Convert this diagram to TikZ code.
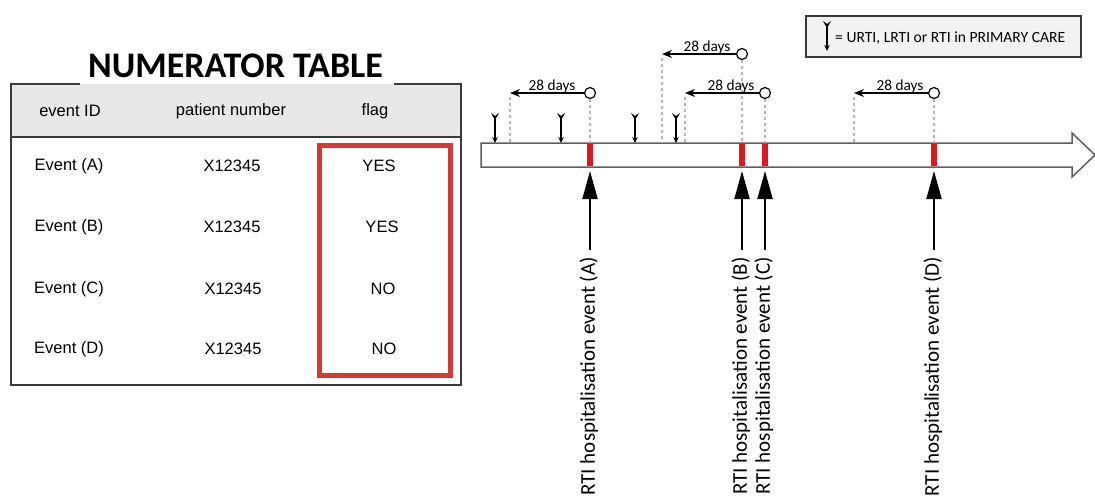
\documentclass[tikz,border=0pt]{standalone}
\usepackage{fontspec}
\setmainfont{Liberation Sans}
\newfontfamily\calfont{Carlito}
\usetikzlibrary{arrows.meta}
\definecolor{hdrgray}{HTML}{E8E8E8}
\definecolor{tblline}{HTML}{3A3A3A}
\definecolor{flagred}{HTML}{D23A33}
\definecolor{markred}{HTML}{E3141C}
\definecolor{barline}{HTML}{5E5E5E}
\definecolor{dashgray}{HTML}{B4B4B4}
\definecolor{legfill}{HTML}{F2F2F2}
\begin{document}
\begin{tikzpicture}[x=1pt,y=-1pt,
  tblborder/.style={draw=tblline,line width=1.5pt},
  celltext/.style={font=\fontsize{16.5}{19}\selectfont,inner sep=0pt},
  daylbl/.style={font=\calfont\fontsize{15.3}{17}\selectfont,inner sep=0pt,anchor=base},
  daycirc/.style={circle,draw=black,fill=white,line width=1.2pt,minimum size=11pt,inner sep=0pt},
  dayarrow/.style={draw=black,line width=1.4pt,-{Stealth[length=10pt,width=8pt]}},
  gdash/.style={draw=dashgray,line width=1.8pt,dash pattern=on 3pt off 3pt},
  pcarrow/.style={draw=black,line width=1.4pt,{Stealth[reversed,length=7pt,width=8pt,inset=3pt]}-{Stealth[length=6pt,width=5.5pt]}},
  evarrow/.style={draw=black,line width=2pt,-{Triangle[length=28pt,width=15pt]}},
  evlbl/.style={font=\calfont\fontsize{21}{24}\selectfont,rotate=90,anchor=east,inner sep=0pt},
  redmark/.style={fill=markred}
]
\useasboundingbox (0,0) rectangle (1095,499);

% ---------------- Table ----------------
\fill[hdrgray] (11,84) rectangle (461,137);
\draw[tblborder] (80,84) -- (11,84) -- (11,385) -- (461,385) -- (461,84) -- (394,84);
\draw[tblborder] (11,137) -- (461,137);
\node[font=\calfont\bfseries\fontsize{36}{40}\selectfont,inner sep=0pt] (title) at (235.5,66) {NUMERATOR TABLE};

\node[celltext] (h1) at (70,111) {event ID};
\node[celltext] (h2) at (231,111) {patient number};
\node[celltext] (h3) at (375,111) {flag};

\node[celltext] (r1a) at (69,166) {Event (A)};
\node[celltext] (r1b) at (232,166) {X12345};
\node[celltext] (r1c) at (379,166) {YES};
\node[celltext] (r2a) at (69,227) {Event (B)};
\node[celltext] (r2b) at (232,227) {X12345};
\node[celltext] (r2c) at (382,227) {YES};
\node[celltext] (r3a) at (69,289) {Event (C)};
\node[celltext] (r3b) at (233,289) {X12345};
\node[celltext] (r3c) at (383,289) {NO};
\node[celltext] (r4a) at (69,349) {Event (D)};
\node[celltext] (r4b) at (233,349) {X12345};
\node[celltext] (r4c) at (384,349) {NO};

\draw[draw=flagred,line width=5pt] (319.5,145) rectangle (450.5,375.5);

% ---------------- Timeline bar ----------------
\draw[draw=barline,line width=1.5pt,fill=white,line join=miter]
  (481,143) -- (1072,143) -- (1072,133) -- (1095,155) -- (1072,177) -- (1072,167) -- (481,167) -- cycle;

% bar top points
\coordinate (bA) at (590,143);
\coordinate (bB) at (742,143);
\coordinate (bC) at (765,143);
\coordinate (bD) at (934,143);

% red hospitalisation marks
\foreach \x in {590,742,765,934}{
  \fill[redmark] (\x-2.6,143.8) rectangle (\x+2.6,166.2);
}

% ---------------- 28 day windows ----------------
\node[daycirc] (cA) at (590,93) {};
\node[daycirc] (cB) at (742,54) {};
\node[daycirc] (cC) at (765,93) {};
\node[daycirc] (cD) at (934,93) {};

\coordinate (tA) at (510,93);
\coordinate (tB) at (662,54);
\coordinate (tC) at (685,93);
\coordinate (tD) at (854,93);

\coordinate (tA2) at (510,97);
\coordinate (tB2) at (662,58);
\coordinate (tC2) at (685,97);
\coordinate (tD2) at (854,97);
\coordinate (gA) at (510,143);
\coordinate (gB) at (662,143);
\coordinate (gC) at (685,143);
\coordinate (gD) at (854,143);

\draw[gdash] (tA2) -- (gA);
\draw[gdash] (tB2) -- (gB);
\draw[gdash] (tC2) -- (gC);
\draw[gdash] (tD2) -- (gD);
\draw[gdash] (cA.south) -- (bA);
\draw[gdash] (cB.south) -- (bB);
\draw[gdash] (cC.south) -- (bC);
\draw[gdash] (cD.south) -- (bD);

\draw[dayarrow] (cA.west) -- (tA);
\draw[dayarrow] (cB.west) -- (tB);
\draw[dayarrow] (cC.west) -- (tC);
\draw[dayarrow] (cD.west) -- (tD);

\node[daylbl] (lA) at (552,90) {28 days};
\node[daylbl] (lB) at (707,51) {28 days};
\node[daylbl] (lC) at (731,90) {28 days};
\node[daylbl] (lD) at (900,90) {28 days};

% ---------------- primary care arrows ----------------
\foreach \x [count=\i] in {495,561,635,676}{
  \coordinate (ps\i) at (\x,113);
  \coordinate (pe\i) at (\x,143);
  \draw[pcarrow] (ps\i) -- (pe\i);
}

% ---------------- hospitalisation event arrows ----------------
\coordinate (hA) at (590,171);
\coordinate (hB) at (742,171);
\coordinate (hC) at (765,171);
\coordinate (hD) at (934,171);
\coordinate (eA) at (590,250);
\coordinate (eB) at (742,250);
\coordinate (eC) at (765,250);
\coordinate (eD) at (934,250);
\draw[evarrow] (eA) -- (hA);
\draw[evarrow] (eB) -- (hB);
\draw[evarrow] (eC) -- (hC);
\draw[evarrow] (eD) -- (hD);

\node[evlbl] (vA) at (589,257) {RTI hospitalisation event (A)};
\node[evlbl] (vB) at (741,257) {RTI hospitalisation event (B)};
\node[evlbl] (vC) at (764,257) {RTI hospitalisation event (C)};
\node[evlbl] (vD) at (933,257) {RTI hospitalisation event (D)};

% ---------------- legend ----------------
\draw[draw=tblline,line width=1.2pt,fill=legfill] (806,16) rectangle (1081,57);
\coordinate (lgs) at (827,21);
\coordinate (lge) at (827,51);
\draw[pcarrow] (lgs) -- (lge);
\node[font=\calfont\fontsize{15.6}{18}\selectfont,inner sep=0pt,anchor=base west] (legtext) at (835,42) {= URTI, LRTI or RTI in PRIMARY CARE};
\end{tikzpicture}
\end{document}
